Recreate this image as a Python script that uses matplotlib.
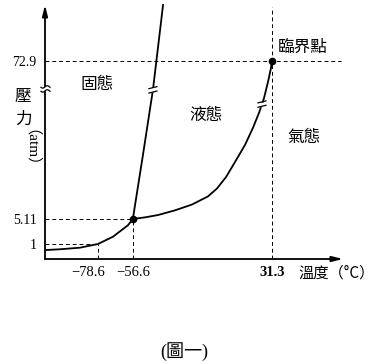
import numpy as np
import matplotlib
matplotlib.use("Agg")
import matplotlib.pyplot as plt
import matplotlib.transforms as mtrans
from matplotlib.lines import Line2D
from matplotlib.patches import Rectangle

# CO2 phase diagram (schematic). temperatures in C, pressures in atm
sub_t = [-112.1, -102.6, -90.0, -78.6, -69.1, -59.6, -56.6]
sub_p = [0.0, 0.13, 0.39, 1.0, 2.2, 4.1, 5.11]

fus_t = [-56.6, -50.2, -43.9, -37.5]
fus_p = [5.11, 32.6, 60.5, 96.9]

vap_t = [-56.6, -48.9, -40.7, -30.0, -19.2, -9.1, -3.4, 2.3, 8.0, 14.3,
         19.3, 23.1, 26.3, 28.8, 30.7, 31.3]
vap_p = [5.11, 5.8, 6.8, 8.8, 11.3, 14.8, 18.2, 23.1, 29.6, 36.9,
         44.2, 50.6, 57.0, 63.9, 69.9, 72.9]

triple = (-56.6, 5.11)
critical = (31.3, 72.9)

x_ticks = [-78.6, -56.6, 31.3]
x_labels = ["\u221278.6", "\u221256.6", "31.3"]
y_ticks = [1, 5.11, 72.9]
y_labels = ["1", "5.11", "72.9"]

T_MIN, T_MAX = -112.1, 76.2
P_MIN, P_MAX = -1.47, 96.9

# the pressure axis is broken, so it's piecewise linear
p_knots = np.array([-100.0, 1.0, 5.11, 72.9, 500.0])
h_knots = np.array([-599.4, 15.0, 40.0, 198.0, 1193.5])

def fwd(p):
    return np.interp(p, p_knots, h_knots)

def inv(h):
    return np.interp(h, h_knots, p_knots)

cjk = ["Noto Sans CJK TC", "DejaVu Sans"]
serif = ["Liberation Serif", "Noto Sans CJK TC"]

fig = plt.figure(figsize=(3.85, 3.64), dpi=100)
ax = fig.add_axes([45 / 385, 105 / 364, 298 / 385, 254 / 364])
ax.set_yscale("function", functions=(fwd, inv))
ax.set_xlim(T_MIN, T_MAX)
ax.set_ylim(P_MIN, P_MAX)

for s in ax.spines.values():
    s.set_visible(False)

# axes with arrows
arr = dict(arrowstyle="-|>,head_length=0.8,head_width=0.2", color="k", lw=1.3,
           mutation_scale=8, shrinkA=0, shrinkB=0)
ax.annotate("", xy=(0, 1.0), xytext=(0, 0), xycoords="axes fraction", arrowprops=arr)
ax.annotate("", xy=(1.0, 0), xytext=(0, 0), xycoords="axes fraction", arrowprops=arr)

# dashed guide lines
dash = dict(color="k", lw=0.7, ls=(0, (4, 3)))
ax.plot([T_MIN, 75.0], [critical[1], critical[1]], **dash)
ax.plot([critical[0], critical[0]], [P_MIN, 96.0], **dash)
ax.plot([T_MIN, triple[0]], [triple[1], triple[1]], **dash)
ax.plot([triple[0], triple[0]], [P_MIN, triple[1]], **dash)
ax.plot([T_MIN, -78.6], [1, 1], **dash)
ax.plot([-78.6, -78.6], [P_MIN, 1], **dash)

# phase boundaries
ax.plot(sub_t, sub_p, color="k", lw=1.3)
ax.plot(fus_t, fus_p, color="k", lw=1.3, clip_on=False)
ax.plot(vap_t, vap_p, color="k", lw=1.3)
ax.plot(*zip(triple, critical), "o", color="k", ms=4.5, ls="none")

ax.set_xticks(x_ticks, x_labels)
ax.set_yticks(y_ticks, y_labels)
ax.minorticks_off()
ax.tick_params(length=0)
ax.tick_params(axis="x", pad=5, labelsize=10.5)
ax.tick_params(axis="y", pad=6, labelsize=10)
for lab in ax.get_xticklabels() + ax.get_yticklabels():
    lab.set_family(serif)
xl = ax.get_xticklabels()
xl[2].set_fontweight("bold")
# the -78.6 label sits a bit left of its tick in the original
xl[0].set_transform(xl[0].get_transform() + mtrans.ScaledTranslation(-0.1, 0, fig.dpi_scale_trans))

# phase names
ax.text(-79.2, 62.6, "固態", family=cjk, fontsize=12, ha="center", va="center")
ax.text(-10.6, 49.7, "液態", family=cjk, fontsize=12, ha="center", va="center")
ax.text(51.8, 39.9, "氣態", family=cjk, fontsize=12, ha="center", va="center")
ax.text(50.5, 78.9, "臨界點", family=cjk, fontsize=12, ha="center", va="center")

# axis titles
fig.text(23 / 385, 1 - 96 / 364, "壓", family=cjk, fontsize=12, ha="center", va="center")
fig.text(23 / 385, 1 - 119 / 364, "力", family=cjk, fontsize=12, ha="center", va="center")
fig.text(23 / 385, 1 - 156 / 364, "（atm）", family=serif, fontsize=11, rotation=-90,
         ha="center", va="center")
fig.text(298 / 385, 1 - 273 / 364, "溫度（°C）", family=cjk, fontsize=11, ha="left", va="center")
fig.text(184 / 385, 1 - 352 / 364, "(圖一)", family=serif, fontsize=13, ha="center", va="center")

# break marks, drawn in pixels
idt = mtrans.IdentityTransform()

def curve_break(t, p):
    cx, cy = ax.transData.transform((t, p))
    fig.add_artist(Rectangle((cx - 4, cy - 1.5), 8, 3, color="white", transform=idt, zorder=5))
    for dy in (-2.2, 2.2):
        fig.add_artist(Line2D([cx - 4, cx + 4], [cy + dy - 1, cy + dy + 1], color="k",
                              lw=0.9, transform=idt, zorder=6))

def axis_break(p):
    cx, cy = ax.transData.transform((T_MIN, p))
    fig.add_artist(Rectangle((cx - 3, cy - 1.5), 6, 3, color="white", transform=idt, zorder=5))
    xs = np.linspace(-4, 5, 20)
    for dy in (-2.0, 2.0):
        fig.add_artist(Line2D(cx + xs, cy + dy + 1.2 * np.sin(xs / 9 * 2 * np.pi), color="k",
                              lw=0.9, transform=idt, zorder=6))

axis_break(60.9)
curve_break(np.interp(60.5, fus_p, fus_t), 60.5)
curve_break(np.interp(54.4, vap_p, vap_t), 54.4)

fig.savefig("out.png", dpi=100)
